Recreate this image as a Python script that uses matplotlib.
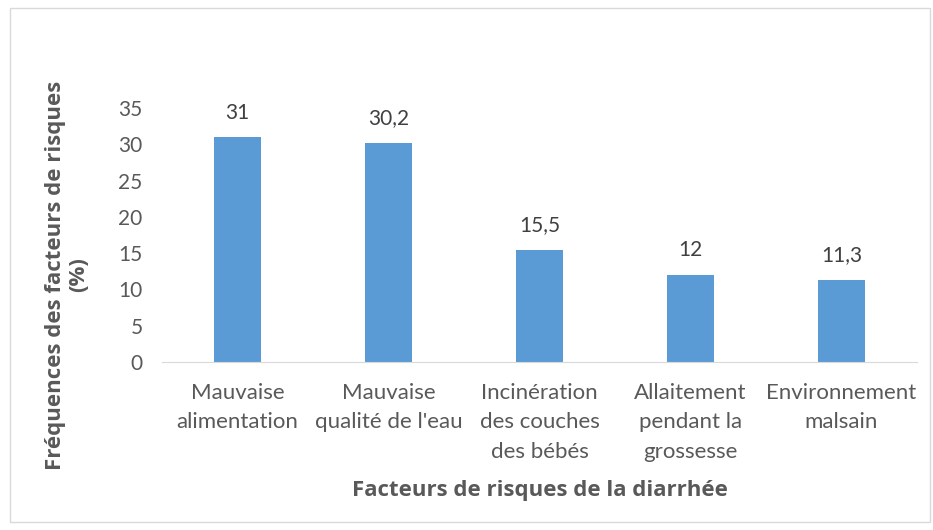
import matplotlib.pyplot as plt
from matplotlib.patches import Rectangle

plt.rcParams['font.family'] = ['Lato', 'DejaVu Sans']

categories = ["Mauvaise\nalimentation", "Mauvaise\nqualité de l'eau",
              "Incinération\ndes couches\ndes bébés", "Allaitement\npendant la\ngrossesse",
              "Environnement\nmalsain"]
values = [31, 30.2, 15.5, 12, 11.3]
value_labels = ["31", "30,2", "15,5", "12", "11,3"]

grey = '#595959'
fig = plt.figure(figsize=(9.33, 5.30), dpi=100)
fig.patches.append(Rectangle((10/933, 8/530), 920/933, 514/530, transform=fig.transFigure,
                             fill=False, edgecolor='#d9d9d9', linewidth=1))

ax = fig.add_axes([162/933, 1 - 362/530, 755/933, 254/530])
x = range(len(values))
bars = ax.bar(x, values, width=0.31, color='#5B9BD5')
for xi, v, lab in zip(x, values, value_labels):
    ax.text(xi, v + 2.0, lab, ha='center', va='bottom', fontsize=15, color='#404040')

ax.set_xlim(-0.5, len(values) - 0.5)
ax.set_ylim(0, 35)
ax.set_yticks(range(0, 36, 5))
ax.set_xticks(list(x))
ax.set_xticklabels(categories, fontsize=16, color=grey, linespacing=1.6)
ax.tick_params(axis='y', labelsize=15, labelcolor=grey, length=0, pad=14)
ax.tick_params(axis='x', length=0, pad=15)
for s in ['top', 'right', 'left']:
    ax.spines[s].set_visible(False)
ax.spines['bottom'].set_color('#d9d9d9')

ax.set_xlabel("Facteurs de risques de la diarrhée", fontsize=16, fontweight='bold',
              color=grey, family=['Open Sans', 'DejaVu Sans'], va='top')
ax.xaxis.set_label_coords(0.5, -0.465)
ax.set_ylabel("Fréquences des facteurs de risques\n(%)", fontsize=16, fontweight='bold',
              color=grey, family=['Open Sans', 'DejaVu Sans'], linespacing=1.1)
ax.yaxis.set_label_coords(-0.097, 0.343)

fig.savefig('out.png', dpi=100)
